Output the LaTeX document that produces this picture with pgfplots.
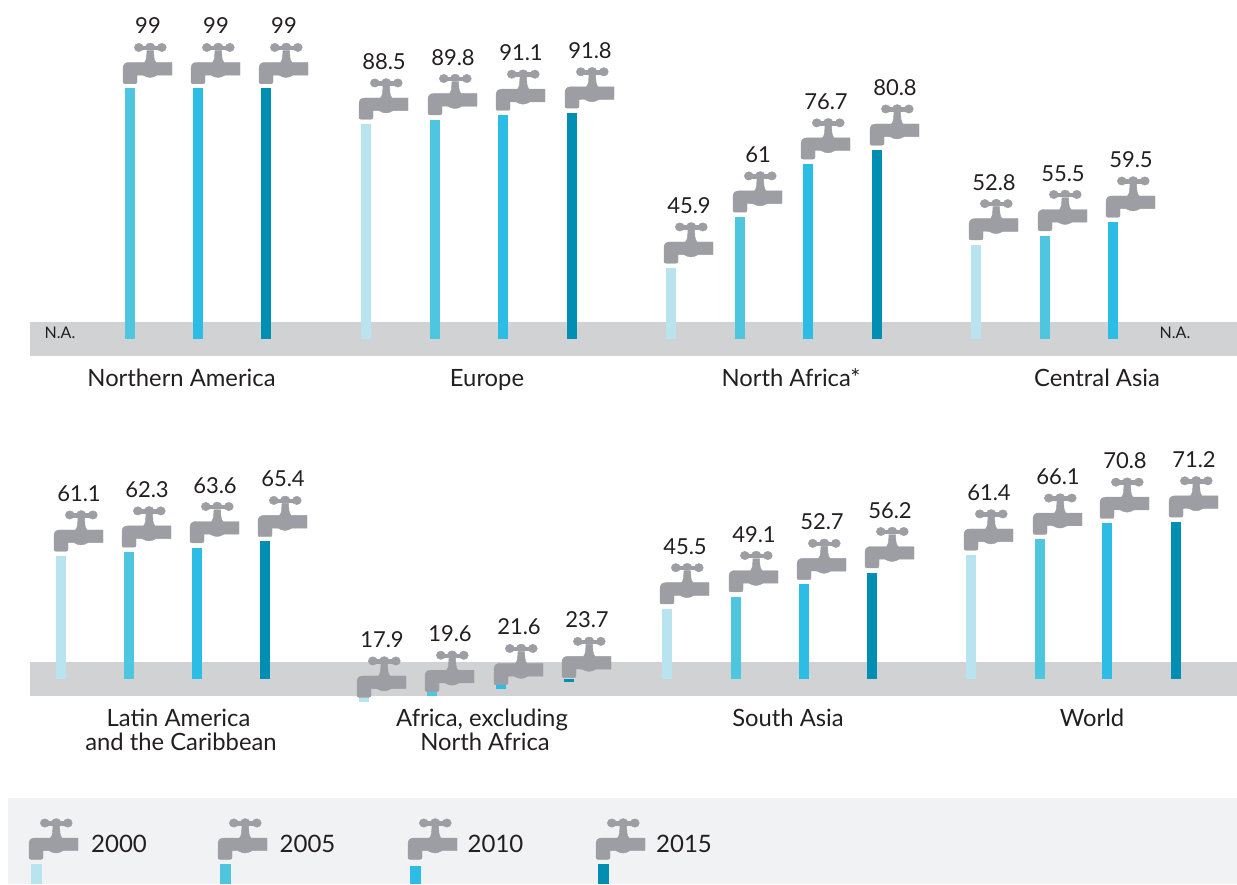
\documentclass[border=0pt]{standalone}
\usepackage{pgfplots}
\usepackage{pgfplotstable}
\usepackage{fontspec}
\setmainfont{Lato}
\pgfplotsset{compat=1.18}

\definecolor{ink}{HTML}{231F20}
\definecolor{tap}{HTML}{9D9EA3}
\definecolor{band}{HTML}{D1D2D4}
\definecolor{legbg}{HTML}{F1F2F4}
\definecolor{c00}{HTML}{B9E4EF}
\definecolor{c05}{HTML}{4FC6DF}
\definecolor{c10}{HTML}{2BBDE5}
\definecolor{c15}{HTML}{008FB3}

\tikzset{
  name labels/.style={text=ink,font=\fontsize{23.8}{28}\selectfont,anchor=base,inner sep=0pt},
  na label/.style={text=ink,font=\fontsize{16}{18}\selectfont,anchor=base,inner sep=0pt},
  year label/.style={text=ink,font=\fontsize{24}{28}\selectfont,anchor=base west,inner sep=0pt},
}

% tap, origin at the top centre of the water column
\pgfdeclareplotmark{faucet}{%
  \fill[tap,x=1pt,y=1pt]
    (-7,6.7) .. controls (-7,5.4) and (-6.3,4.7) .. (-5,4.7) -- (5,4.7)
    .. controls (6.3,4.7) and (7,5.4) .. (7,6.7) -- (7,13.4) -- (13,13.3)
    .. controls (15.5,11.8) and (18,11) .. (20,11)
    .. controls (22,11) and (24.5,11.8) .. (27,13.3) -- (42,13.3) -- (42,26)
    -- (26,26) .. controls (24.8,27.5) and (24.2,29) .. (24,31) -- (23.5,38)
    -- (17,38) -- (16.5,31) .. controls (16.3,29) and (15.7,27.5) .. (14.5,26)
    -- (-1,26) .. controls (-5,26) and (-7,24) .. (-7,20) -- cycle;
  \fill[tap,x=1pt,y=1pt] (8.8,41) ellipse (4.5 and 4.2);
  \fill[tap,x=1pt,y=1pt] (20.2,42) ellipse (4.5 and 3.4);
  \fill[tap,x=1pt,y=1pt] (31.8,41) ellipse (4.5 and 4.2);
  \fill[tap,x=1pt,y=1pt] (9,39) rectangle (32,42.5);
}

\pgfplotsset{
  canvas/.style={scale only axis,width=1237pt,height=884pt,at={(0,0)},anchor=south west,
    hide axis,clip=false,xmin=0,xmax=1237},
  water/.style={draw=none,mark=none,forget plot,error bars/.cd,y dir=minus,y explicit,
    error mark=none,error bar style={draw=#1,solid,line width=10.5pt}},
  tapmark/.style={only marks,mark=faucet,forget plot,nodes near coords,point meta=y,
    every node near coord/.append style={anchor=base,xshift=18pt,yshift=54.5pt,
      text=ink,font=\fontsize{22}{25}\selectfont,inner sep=0pt,
      /pgf/number format/fixed,/pgf/number format/precision=1,
      /pgf/number format/assume math mode=true}},
}

\pgfplotstableread{
x00 v00 x05 v05 x10 v10 x15 v15
nan nan 130 99  198 99  266 99
366 88.5 435 89.8 503 91.1 572 91.8
671 45.9 740 61 808 76.7 877 80.8
976 52.8 1045 55.5 1113 59.5 nan nan
}\toppanel

\pgfplotstableread{
x00 v00 x05 v05 x10 v10 x15 v15
61 61.1 129 62.3 197 63.6 265 65.4
364 17.9 432 19.6 501 21.6 569 23.7
667 45.5 736 49.1 804 52.7 872 56.2
971 61.4 1040 66.1 1107 70.8 1176 71.2
}\botpanel

% y in pixels of the page, for the legend strip
\pgfplotstableread{
x y
36 864
225 864
415 864
603 864
}\legendtaps

\newcommand{\panelplots}[2]{%
  \addplot[water=c00] table[x=x00,y=v00,y error expr=\thisrow{v00}-#2] {#1};
  \addplot[water=c05] table[x=x05,y=v05,y error expr=\thisrow{v05}-#2] {#1};
  \addplot[water=c10] table[x=x10,y=v10,y error expr=\thisrow{v10}-#2] {#1};
  \addplot[water=c15] table[x=x15,y=v15,y error expr=\thisrow{v15}-#2] {#1};
  \addplot[tapmark] table[x=x00,y=v00] {#1};
  \addplot[tapmark] table[x=x05,y=v05] {#1};
  \addplot[tapmark] table[x=x10,y=v10] {#1};
  \addplot[tapmark] table[x=x15,y=v15] {#1};
}

\begin{document}
\begin{tikzpicture}[x=1pt,y=1pt]
\useasboundingbox (0,0) rectangle (1237,884);

% backdrop: bands, names, legend, in page pixels
\begin{axis}[canvas,ymin=0,ymax=884,y dir=reverse]
\addplot[fill=band,draw=none,forget plot] coordinates {(30,322)(1237,322)(1237,356)(30,356)} -- cycle;
\addplot[fill=band,draw=none,forget plot] coordinates {(30,662)(1237,662)(1237,696)(30,696)} -- cycle;
\addplot[fill=legbg,draw=none,forget plot] coordinates {(8,798)(1237,798)(1237,884)(8,884)} -- cycle;
\node[name labels] at (axis cs:181.5,386) {Northern America};
\node[name labels] at (axis cs:487,386) {Europe};
\node[name labels] at (axis cs:791,386) {North Africa*};
\node[name labels] at (axis cs:1097,386) {Central Asia};
\node[name labels] at (axis cs:178.5,726) {Latin America};
\node[name labels] at (axis cs:181,750) {and the Caribbean};
\node[name labels] at (axis cs:482,726) {Africa, excluding};
\node[name labels] at (axis cs:485,750) {North Africa};
\node[name labels] at (axis cs:788,726) {South Asia};
\node[name labels] at (axis cs:1092,726) {World};
\node[na label] at (axis cs:60,338.5) {N.A.};
\node[na label] at (axis cs:1175,338.5) {N.A.};
\addplot[only marks,mark=faucet,forget plot] table {\legendtaps};
\addplot[c00,line width=10.5pt,forget plot] coordinates {(36.5,864)(36.5,884)};
\addplot[c05,line width=10.5pt,forget plot] coordinates {(225.5,864)(225.5,884)};
\addplot[c10,line width=10.5pt,forget plot] coordinates {(415.5,866)(415.5,884)};
\addplot[c15,line width=10.5pt,forget plot] coordinates {(603.5,864)(603.5,884)};
\node[year label] at (axis cs:91,852) {2000};
\node[year label] at (axis cs:279.5,852) {2005};
\node[year label] at (axis cs:467.5,852) {2010};
\node[year label] at (axis cs:656,852) {2015};
\end{axis}

% upper row, 3.38 px per percentage point, columns start at 24.9
\begin{axis}[canvas,ymin=-136.36,ymax=125.18]
\panelplots{\toppanel}{24.9}
\end{axis}

% lower row, columns start at 24.7
\begin{axis}[canvas,ymin=-35.95,ymax=225.59]
\panelplots{\botpanel}{24.7}
\end{axis}
\end{tikzpicture}
\end{document}
